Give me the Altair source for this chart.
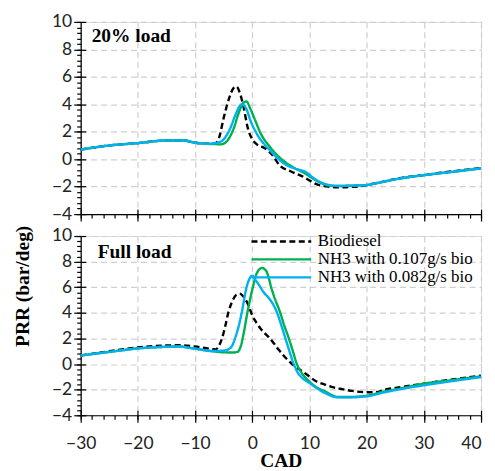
import altair as alt
import pandas as pd

SERIES = ["Biodiesel", "NH3 with 0.107g/s bio", "NH3 with 0.082g/s bio"]
COLORS = ["#000000", "#00B050", "#00B0F0"]
DASHES = [[6, 3.5], [1, 0], [1, 0]]
PANELS = ["20% load", "Full load"]

X_MAJOR = list(range(-30, 41, 10))
X_MINOR = list(range(-30, 41, 2))
Y_MAJOR = list(range(-4, 11, 2))
Y_MINOR = [round(-4 + 0.4 * i, 1) for i in range(36)]

# ---- 20% load ----
top_bio_x = [-30, -25, -20, -15, -12, -10, -8, -6.5, -5.8, -5.0, -4.1, -3.3, -2.8, -2.1, -1.5, -0.8, 0, 0.8, 2.2, 3.4, 4.9, 6.6, 9.0, 11.3, 13, 15, 17, 19, 20, 22, 25, 28, 30, 33, 36, 40]
top_bio_y = [0.7, 1.0, 1.17, 1.36, 1.36, 1.2, 1.12, 1.15, 1.57, 3.0, 4.37, 5.17, 5.3, 4.73, 3.76, 2.3, 1.45, 1.08, 0.8, 0.36, -0.5, -0.86, -1.3, -1.83, -1.98, -2.05, -2.02, -1.96, -1.88, -1.72, -1.45, -1.25, -1.16, -0.98, -0.84, -0.65]

top_g107_x = [-30, -25, -20, -15, -12, -10, -8, -6.5, -5.5, -4.4, -3.2, -2.35, -1.6, -1.0, -0.3, 0.55, 1.4, 3.2, 5.5, 7.2, 9.0, 11.3, 13.6, 15.3, 17, 20, 22, 25.2, 28, 30, 35, 40]
top_g107_y = [0.7, 1.0, 1.17, 1.36, 1.36, 1.2, 1.12, 1.1, 1.08, 1.33, 2.3, 3.4, 4.08, 4.2, 3.64, 2.79, 1.94, 0.84, -0.13, -0.6, -0.98, -1.58, -1.93, -1.95, -1.93, -1.88, -1.72, -1.45, -1.27, -1.16, -0.92, -0.67]

top_b082_x = [-30, -25, -20, -15, -12, -10, -8, -6.1, -5.0, -3.8, -2.9, -2.2, -1.8, -1.0, -0.3, 0.84, 3.2, 5.5, 7.8, 9.0, 11.3, 13.6, 15.3, 17, 20, 22, 25.2, 28, 30, 35, 40]
top_b082_y = [0.7, 1.0, 1.17, 1.36, 1.36, 1.2, 1.12, 1.2, 1.45, 2.3, 3.27, 3.88, 4.0, 3.64, 2.8, 1.82, 0.6, -0.3, -0.73, -0.86, -1.54, -1.9, -1.95, -1.93, -1.88, -1.72, -1.45, -1.27, -1.16, -0.92, -0.67]

# ---- Full load ----
bot_bio_x = [-30, -25, -20, -15, -13, -10, -7, -6.4, -5.8, -5.3, -4.7, -4.2, -3.5, -2.8, -2.2, -1.6, -1.0, -0.5, 0, 0.7, 1.4, 2.2, 2.9, 3.8, 4.6, 5.5, 6.4, 7.5, 8.7, 10, 11, 12.7, 14, 15.6, 17.5, 20, 21.5, 23.2, 26, 30, 35, 40]
bot_bio_y = [0.67, 1.0, 1.3, 1.45, 1.47, 1.37, 1.17, 1.15, 1.45, 2.0, 3.0, 4.0, 4.9, 5.4, 5.5, 5.3, 4.9, 4.4, 3.8, 3.25, 2.8, 2.4, 2.1, 1.6, 1.13, 0.65, 0.23, -0.2, -0.55, -0.97, -1.3, -1.6, -1.8, -1.95, -2.1, -2.2, -2.2, -2.0, -1.8, -1.53, -1.2, -0.91]

bot_g107_x = [-30, -25, -20, -15, -13, -10, -7, -5, -3.5, -2.6, -2.0, -1.5, -0.9, -0.4, 0.1, 0.8, 1.7, 2.4, 2.9, 3.3, 3.8, 4.9, 5.6, 6.4, 7.1, 7.8, 8.5, 9.9, 11, 12.7, 15, 17, 20, 23.2, 26, 30, 35, 40]
bot_g107_y = [0.67, 0.95, 1.22, 1.35, 1.37, 1.2, 1.0, 0.92, 0.9, 0.95, 1.4, 2.4, 3.9, 5.0, 6.0, 7.1, 7.5, 7.3, 6.7, 6.0, 5.3, 4.0, 3.0, 2.0, 1.0, 0.0, -0.6, -1.33, -1.75, -2.13, -2.57, -2.57, -2.47, -2.13, -1.9, -1.53, -1.25, -0.97]

bot_b082_x = [-30, -25, -20, -15, -13, -10, -7, -5, -4.2, -3.5, -2.8, -2.3, -1.85, -1.0, -0.5, 0, 0.5, 1.0, 2.0, 3.0, 3.6, 4.35, 5.1, 5.8, 6.5, 7.25, 8.0, 8.7, 10, 11, 12.7, 15, 17, 20, 23.2, 26, 30, 35, 40]
bot_b082_y = [0.67, 0.95, 1.22, 1.35, 1.37, 1.2, 1.02, 1.05, 1.15, 1.45, 2.3, 3.1, 4.0, 6.0, 6.65, 6.9, 6.6, 6.3, 5.6, 5.1, 4.7, 4.0, 3.0, 2.0, 1.0, 0.0, -0.7, -1.07, -1.48, -1.8, -2.26, -2.6, -2.6, -2.52, -2.2, -1.95, -1.66, -1.33, -1.02]


def frame(parts):
    rows = []
    for name, xs, ys in parts:
        for i, (a, b) in enumerate(zip(xs, ys)):
            rows.append({"series": name, "x": a, "y": b, "i": i})
    return pd.DataFrame(rows)


top_df = frame([(SERIES[0], top_bio_x, top_bio_y), (SERIES[1], top_g107_x, top_g107_y), (SERIES[2], top_b082_x, top_b082_y)])
bot_df = frame([(SERIES[0], bot_bio_x, bot_bio_y), (SERIES[1], bot_g107_x, bot_g107_y), (SERIES[2], bot_b082_x, bot_b082_y)])

XS = alt.Scale(domain=[-30, 40], nice=False, zero=False)
YS = alt.Scale(domain=[-4, 10], nice=False, zero=False)
TICK_FONT = "Lato"
SERIF = "Liberation Serif"

GRID = dict(grid=True, gridDash=[6, 4], gridColor="#cfcfcf", gridWidth=1.2,
            tickSize=7, tickColor="black", tickWidth=1.2, domainColor="black", domainWidth=1.2,
            labelFlush=False)
LAB = dict(labelFont=TICK_FONT, labelFontSize=17.5, labelColor="#222222")


def panel(df, label, bottom, height, label_pos):
    base = alt.Chart(df)
    if bottom:
        x_axis = alt.Axis(values=X_MAJOR, labelPadding=12, **GRID, **LAB,
                          labelAlign={"condition": {"test": "datum.value >= 40", "value": "right"}, "value": "center"},
                          titleFont=SERIF, titleFontSize=19.5, titleFontWeight="bold",
                          titleColor="black", titleBaseline="alphabetic", titleY=51)
        y_axis = alt.Axis(values=Y_MAJOR, labelPadding=2, **GRID, **LAB,
                          titleFont=SERIF, titleFontSize=19.5, titleFontWeight="bold",
                          titleColor="black", titleAngle=270, titleAlign="center", titleBaseline="middle",
                          titleX=-58, titleY=50)
        legend = alt.Legend(orient="none", legendX=193, legendY=-3, title=None,
                            symbolType="M-6,0H6", symbolSize=100, symbolStrokeWidth=2.4,
                            labelFont=SERIF, labelFontSize=17, labelColor="black", labelLimit=0,
                            labelOffset=28, padding=0, rowPadding=0)
    else:
        x_axis = alt.Axis(values=X_MAJOR, labels=False, **GRID)
        y_axis = alt.Axis(values=Y_MAJOR, labelPadding=2, **GRID, **LAB)
        legend = None

    color_kw = dict(scale=alt.Scale(domain=SERIES, range=COLORS))
    dash_kw = dict(scale=alt.Scale(domain=SERIES, range=DASHES))
    if legend is None:
        color_kw["legend"] = None
        dash_kw["legend"] = None
    else:
        color_kw["legend"] = legend
        dash_kw["legend"] = legend

    lines = base.mark_line(strokeWidth=2.4, interpolate="monotone").encode(
        x=alt.X("x:Q", scale=XS, axis=x_axis, title="CAD" if bottom else None),
        y=alt.Y("y:Q", scale=YS, axis=y_axis, title="PRR (bar/deg)" if bottom else None),
        color=alt.Color("series:N", title=None, **color_kw),
        strokeDash=alt.StrokeDash("series:N", title=None, **dash_kw),
        order=alt.Order("i:Q"),
    )

    minor = base.mark_point(opacity=0).encode(
        x=alt.X("x:Q", scale=XS, title=None,
                axis=alt.Axis(orient="bottom", values=X_MINOR, tickSize=4, tickColor="black", tickWidth=1.2,
                              labels=False, domain=False, grid=False)),
        y=alt.Y("y:Q", scale=YS, title=None,
                axis=alt.Axis(orient="left", values=Y_MINOR, tickSize=4, tickColor="black", tickWidth=1.2,
                              labels=False, domain=False, grid=False)),
    )

    inner = base.mark_point(opacity=0).encode(
        x=alt.X("x:Q", scale=XS, title=None,
                axis=alt.Axis(orient="bottom", values=X_MAJOR, tickSize=5, offset=-5, tickColor="black",
                              tickWidth=1.2, labels=False, domain=False, grid=False)),
        y=alt.Y("y:Q", scale=YS, title=None,
                axis=alt.Axis(orient="left", values=Y_MAJOR, tickSize=5, offset=-5, tickColor="black",
                              tickWidth=1.2, labels=False, domain=False, grid=False)),
    )

    text = alt.Chart(pd.DataFrame({"label": [label]})).mark_text(
        font=SERIF, fontSize=19.5, fontWeight="bold", align="left", baseline="alphabetic", color="black"
    ).encode(text="label:N", x=alt.value(label_pos[0]), y=alt.value(label_pos[1]))

    return alt.layer(lines, minor, inner, text).resolve_axis(x="independent", y="independent").properties(
        width=402, height=height)


top = panel(top_df, PANELS[0], False, 193, (11, 20))
bot = panel(bot_df, PANELS[1], True, 180, (17, 22))

chart = alt.vconcat(top, bot, spacing=22, bounds="flush").resolve_scale(
    color="independent", strokeDash="independent"
).resolve_legend(color="independent", strokeDash="independent").properties(
    padding={"left": 4, "top": 3, "right": 0, "bottom": 0}
).configure_view(stroke=None).configure(background="white")

chart.save("out.html", embed_options={"renderer": "svg", "actions": False})
